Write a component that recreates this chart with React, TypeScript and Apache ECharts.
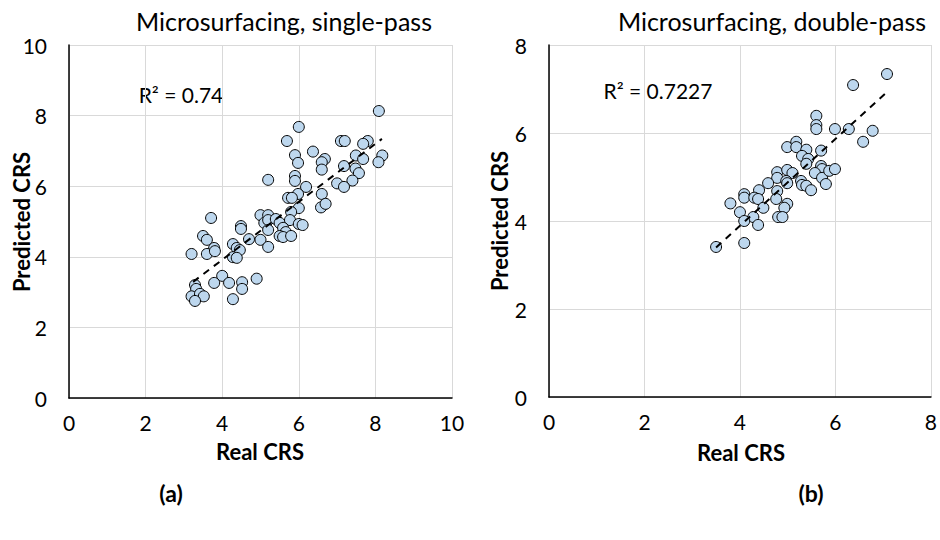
import React, { useEffect, useRef } from "react";
import * as echarts from "echarts";

// (a) Microsurfacing, single-pass
const singleReal = [
  8.09, 6.0, 5.69, 7.1, 7.2, 7.8, 7.68, 6.37, 5.9, 5.98, 6.68, 6.6, 6.6, 7.49, 7.68, 8.18, 8.08, 7.18, 7.48, 7.57,
  7.4, 7.0, 7.18, 5.2, 5.9, 5.9, 6.19, 6.6, 6.58, 6.7, 5.98, 5.72, 5.82, 6.0, 5.8, 5.0, 5.2, 5.1, 5.2, 5.4,
  5.5, 5.77, 6.0, 6.1, 5.2, 5.59, 5.66, 5.5, 5.59, 5.8, 5.0, 5.2, 4.7, 3.71, 4.49, 4.49, 3.5, 3.6, 3.79, 3.6,
  3.81, 3.2, 4.28, 4.38, 4.46, 4.28, 4.38, 4.0, 3.79, 4.18, 4.52, 4.52, 4.9, 3.29, 3.32, 3.2, 3.42, 3.52, 3.29, 4.28,
];
const singlePred = [
  8.13, 7.68, 7.28, 7.28, 7.28, 7.28, 7.2, 6.98, 6.88, 6.66, 6.77, 6.68, 6.47, 6.87, 6.77, 6.87, 6.68, 6.57, 6.5, 6.37,
  6.16, 6.08, 5.98, 6.18, 6.29, 6.15, 5.98, 5.78, 5.4, 5.5, 5.78, 5.67, 5.67, 5.38, 5.27, 5.18, 5.18, 4.96, 5.04, 5.07,
  4.96, 5.04, 4.93, 4.9, 4.76, 4.82, 4.7, 4.59, 4.56, 4.59, 4.48, 4.28, 4.5, 5.1, 4.87, 4.79, 4.59, 4.48, 4.25, 4.08,
  4.16, 4.08, 4.36, 4.25, 4.19, 3.99, 3.97, 3.46, 3.26, 3.26, 3.28, 3.09, 3.38, 3.2, 3.09, 2.88, 2.95, 2.88, 2.75, 2.8,
];
const singleTrendReal = [3.24, 8.17];
const singleTrendPred = [3.29, 7.34];
const singleR2 = "R² = 0.74";

// (b) Microsurfacing, double-pass
const doubleReal = [
  7.08, 6.37, 5.6, 5.6, 5.6, 5.99, 6.28, 6.78, 6.58, 4.99, 5.18, 5.18, 5.39, 5.7, 5.3, 5.43, 5.39, 5.7, 5.72, 5.57,
  5.72, 5.8, 5.87, 5.99, 4.78, 4.99, 5.1, 4.78, 4.97, 5.28, 5.3, 5.39, 5.49, 4.59, 4.4, 4.09, 4.09, 4.3, 4.38, 4.78,
  4.76, 4.99, 4.93, 3.8, 4.0, 4.49, 4.28, 4.09, 4.38, 4.8, 4.89, 4.09, 3.5, 4.99,
];
const doublePred = [
  7.34, 7.09, 6.39, 6.18, 6.09, 6.09, 6.09, 6.05, 5.8, 5.68, 5.8, 5.68, 5.62, 5.6, 5.48, 5.41, 5.3, 5.25, 5.18, 5.09,
  4.98, 4.84, 5.14, 5.18, 5.11, 5.16, 5.09, 4.98, 4.91, 4.91, 4.82, 4.8, 4.7, 4.86, 4.7, 4.61, 4.53, 4.53, 4.5, 4.68,
  4.5, 4.39, 4.3, 4.4, 4.2, 4.3, 4.09, 4.0, 3.91, 4.09, 4.09, 3.5, 3.41, 4.86,
];
const doubleTrendReal = [3.5, 7.1];
const doubleTrendPred = [3.4, 6.95];
const doubleR2 = "R² = 0.7227";

const titles = ["Microsurfacing, single-pass", "Microsurfacing, double-pass"];
const panelLabels = ["(a)", "(b)"];
const xAxisName = "Real CRS";
const yAxisName = "Predicted CRS";
const axisMaxA = 10;
const axisMaxB = 8;
const tickStep = 2;

const FONT = "Lato";

export default function App() {
  const ref = useRef<HTMLDivElement>(null);
  useEffect(() => {
    if (!ref.current) return;
    const chart = echarts.init(ref.current, null, { renderer: "svg" });
    const pts = (xs: number[], ys: number[]) => xs.map((x, i) => [x, ys[i]]);
    const axisCommon = (max: number) => ({
      type: "value" as const,
      min: 0,
      max,
      interval: tickStep,
      axisLine: { show: true, onZero: false, lineStyle: { color: "#000", width: 1.5 } },
      axisTick: { show: false },
      splitLine: { show: true, lineStyle: { color: "#d9d9d9", width: 1 } },
    });
    const xAxis = (max: number, gi: number) => ({
      ...axisCommon(max),
      gridIndex: gi,
      axisLabel: { color: "#000", fontFamily: FONT, fontSize: 21, margin: 14 },
    });
    const yAxis = (max: number, gi: number) => ({
      ...axisCommon(max),
      gridIndex: gi,
      axisLabel: { color: "#000", fontFamily: FONT, fontSize: 21, margin: 22 },
    });
    const scatter = (xs: number[], ys: number[], gi: number) => ({
      type: "scatter" as const,
      xAxisIndex: gi,
      yAxisIndex: gi,
      data: pts(xs, ys),
      symbol: "circle",
      symbolSize: 11,
      itemStyle: { color: "#bdd7ee", borderColor: "#000", borderWidth: 1, opacity: 1 },
      z: 2,
    });
    const trend = (xs: number[], ys: number[], gi: number) => ({
      type: "line" as const,
      xAxisIndex: gi,
      yAxisIndex: gi,
      data: pts(xs, ys),
      symbol: "none",
      lineStyle: { color: "#000", width: 2, type: [7, 6] },
      z: 3,
      silent: true,
    });
    const txt = (text: string, x: number, y: number, size: number, bold = false, rot = 0) => ({
      type: "text" as const,
      x,
      y,
      rotation: rot,
      style: {
        text,
        fill: "#000",
        font: `${bold ? "bold " : ""}${size}px ${FONT}`,
        textAlign: "center",
        textVerticalAlign: "middle",
      },
    });
    chart.setOption({
      animation: false,
      backgroundColor: "#fff",
      grid: [
        { left: 69, top: 45, width: 383, height: 353 },
        { left: 549, top: 45, width: 383, height: 352 },
      ],
      xAxis: [xAxis(axisMaxA, 0), xAxis(axisMaxB, 1)],
      yAxis: [yAxis(axisMaxA, 0), yAxis(axisMaxB, 1)],
      series: [
        scatter(singleReal, singlePred, 0),
        trend(singleTrendReal, singleTrendPred, 0),
        scatter(doubleReal, doublePred, 1),
        trend(doubleTrendReal, doubleTrendPred, 1),
      ],
      graphic: [
        txt(titles[0], 284, 21, 25),
        txt(titles[1], 772, 21, 25),
        txt(singleR2, 181, 94, 21),
        txt(doubleR2, 658, 90, 21),
        txt(xAxisName, 260, 451, 22, true),
        txt(xAxisName, 741, 452, 22, true),
        txt(yAxisName, 21, 222, 22, true, Math.PI / 2),
        txt(yAxisName, 499, 221, 22, true, Math.PI / 2),
        txt(panelLabels[0], 171, 493, 23, true),
        txt(panelLabels[1], 811, 493, 23, true),
      ],
    });
    return () => chart.dispose();
  }, []);
  return (
    <div
      ref={ref}
      style={{ position: "fixed", left: 0, top: 0, width: 940, height: 540, background: "#fff" }}
    />
  );
}
